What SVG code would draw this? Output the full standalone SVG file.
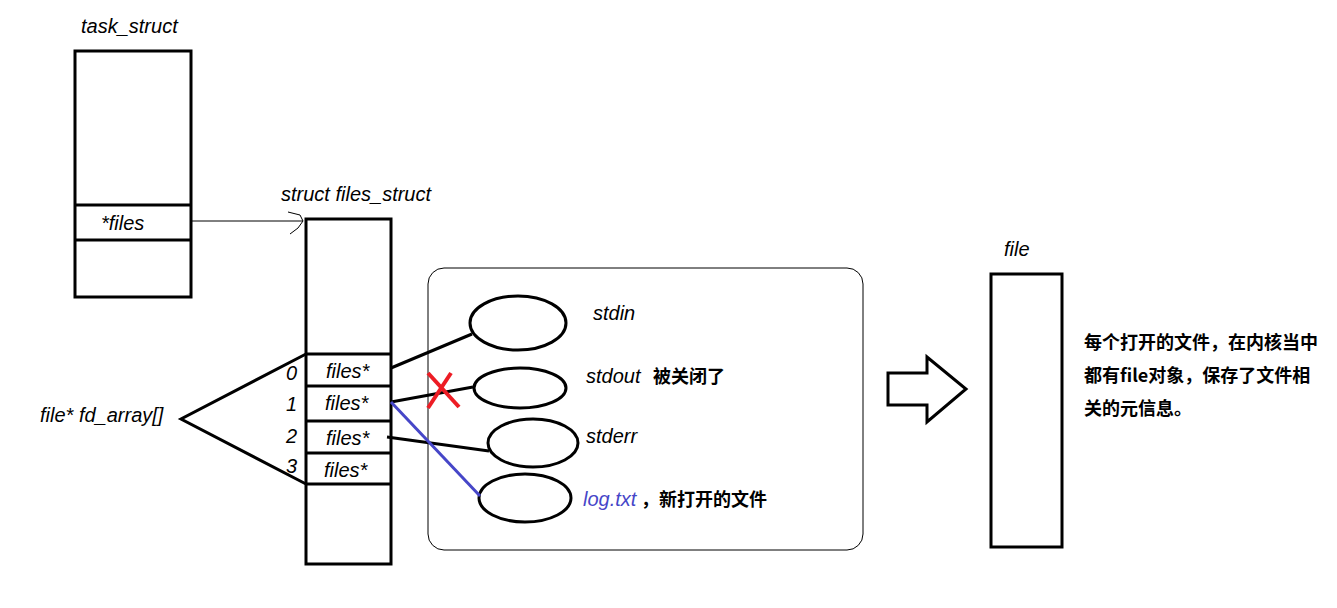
<svg xmlns="http://www.w3.org/2000/svg" width="1337" height="608" viewBox="0 0 1337 608">
<defs>
<style>
.box{fill:#fff;stroke:#000;stroke-width:3}
.ln{stroke:#000;stroke-width:3;fill:none}
.thin{stroke:#000;stroke-width:1;fill:none}
.hw{font-family:"Liberation Sans",Arial,sans-serif;font-style:italic;font-size:20px;fill:#000}
.cn{font-family:"Noto Sans CJK SC","Liberation Sans",sans-serif;font-weight:bold;font-size:18px;fill:#000}
.ell{fill:none;stroke:#000;stroke-width:3}
</style>
</defs>
<rect width="1337" height="608" fill="#fff"/>

<g id="task_struct">
<text class="hw" x="81" y="33">task_struct</text>
<rect class="box" x="75" y="51" width="116" height="246"/>
<line class="ln" x1="75" y1="205" x2="191" y2="205"/>
<line class="ln" x1="75" y1="240" x2="191" y2="240"/>
<text class="hw" x="101" y="230">*files</text>
</g>

<g id="files_struct">
<text class="hw" x="281" y="201">struct files_struct</text>
<rect class="box" x="306" y="219" width="85" height="345"/>
<line class="ln" x1="306" y1="354" x2="391" y2="354"/>
<line class="ln" x1="306" y1="386" x2="391" y2="386"/>
<line class="ln" x1="306" y1="421" x2="391" y2="421"/>
<line class="ln" x1="306" y1="453" x2="391" y2="453"/>
<line class="ln" x1="306" y1="484" x2="391" y2="484"/>
<text class="hw" x="326" y="378">files*</text>
<text class="hw" x="325" y="410">files*</text>
<text class="hw" x="326" y="445">files*</text>
<text class="hw" x="324" y="477">files*</text>
<text class="hw" x="286" y="380">0</text>
<text class="hw" x="286" y="411">1</text>
<text class="hw" x="286" y="443">2</text>
<text class="hw" x="286" y="473">3</text>
</g>

<g id="fd_array">
<text class="hw" x="40" y="422">file* fd_array[]</text>
<polyline class="ln" points="306,354 181,419 306,484"/>
</g>

<g id="open_files">
<rect x="428" y="268" width="435" height="282" rx="16" fill="none" stroke="#000" stroke-width="1"/>
<ellipse class="ell" cx="518" cy="323" rx="48" ry="27"/>
<ellipse class="ell" cx="520" cy="388" rx="46" ry="20"/>
<ellipse class="ell" cx="533" cy="443" rx="45" ry="24"/>
<ellipse class="ell" cx="525" cy="498" rx="46" ry="24"/>
<text class="hw" x="593" y="320">stdin</text>
<text class="hw" x="586" y="383">stdout</text>
<text class="cn" x="653" y="383">被关闭了</text>
<text class="hw" x="586" y="443">stderr</text>
<text class="hw" x="583" y="506" style="fill:#4646c8">log.txt</text>
<text class="cn" x="641" y="506">，</text>
<text class="cn" x="659" y="506">新打开的文件</text>
</g>

<g id="file">
<text class="hw" x="1004" y="256">file</text>
<rect class="box" x="991" y="274" width="71" height="273"/>
<text class="cn" x="1084" y="349">每个打开的文件，在内核当中</text>
<text class="cn" x="1084" y="382">都有file对象，保存了文件相</text>
<text class="cn" x="1084" y="415">关的元信息。</text>
</g>

<g id="connectors">
<line class="thin" x1="191" y1="221" x2="303" y2="221"/>
<path class="thin" d="M288,212 L300,215 L303,221 L298,228 L290,234"/>
<line class="ln" x1="391" y1="368" x2="472" y2="334"/>
<line class="ln" x1="391" y1="402" x2="473" y2="387"/>
<line class="ln" x1="387" y1="437" x2="489" y2="451"/>
<line x1="391" y1="402" x2="480" y2="496" stroke="#4646c8" stroke-width="3"/>
<line x1="428" y1="373" x2="459" y2="407" stroke="#ed1c24" stroke-width="4"/>
<line x1="451" y1="373" x2="428" y2="408" stroke="#ed1c24" stroke-width="4"/>
<polygon points="888,373 927,373 927,357 966,389 927,422 927,405 888,405" fill="#fff" stroke="#000" stroke-width="3"/>
</g>
</svg>
